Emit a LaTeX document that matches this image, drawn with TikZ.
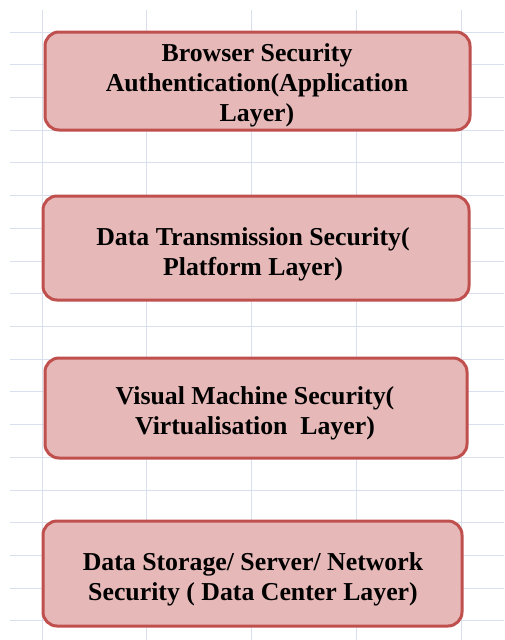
\documentclass[tikz,border=0pt]{standalone}
\usepackage{fontspec}
\setmainfont{Liberation Serif}
\definecolor{gridc}{RGB}{218,223,238}
\definecolor{boxborder}{RGB}{192,80,77}
\definecolor{boxfill}{RGB}{230,185,184}
\begin{document}
\begin{tikzpicture}[x=1pt,y=-1pt,
  layerbox/.style={draw=boxborder,fill=boxfill,line width=3pt,rounded corners=14pt},
  layertext/.style={align=center,font=\bfseries\fontsize{25.8}{30}\selectfont,text=black,inner sep=0pt}]
\useasboundingbox (0,0) rectangle (504,640);
\fill[white] (0,0) rectangle (504,640);
% grid
\foreach \k in {0,...,18} {
  \draw[gridc,line width=1pt] (10,{32+32.72*\k}) -- (504,{32+32.72*\k});
}
\foreach \x in {42,146,251,356,461} {
  \draw[gridc,line width=1pt] (\x,10) -- (\x,640);
}
% boxes
\draw[layerbox] (45,32) rectangle (470,130);
\draw[layerbox] (43,196) rectangle (469,300);
\draw[layerbox] (45,358) rectangle (467,458);
\draw[layerbox] (43,521) rectangle (462,626);
\node[layertext] (b1) at (257,85) {Browser Security\\Authentication(Application\\Layer)};
\node[layertext] (b2) at (253,254) {Data Transmission Security(\\ Platform Layer)};
\node[layertext] (b3) at (255,413.5) {Visual Machine Security(\\ Virtualisation~ Layer)};
\node[layertext] (b4) at (253,579) {Data Storage/ Server/ Network\\Security ( Data Center Layer)};
\end{tikzpicture}
\end{document}
